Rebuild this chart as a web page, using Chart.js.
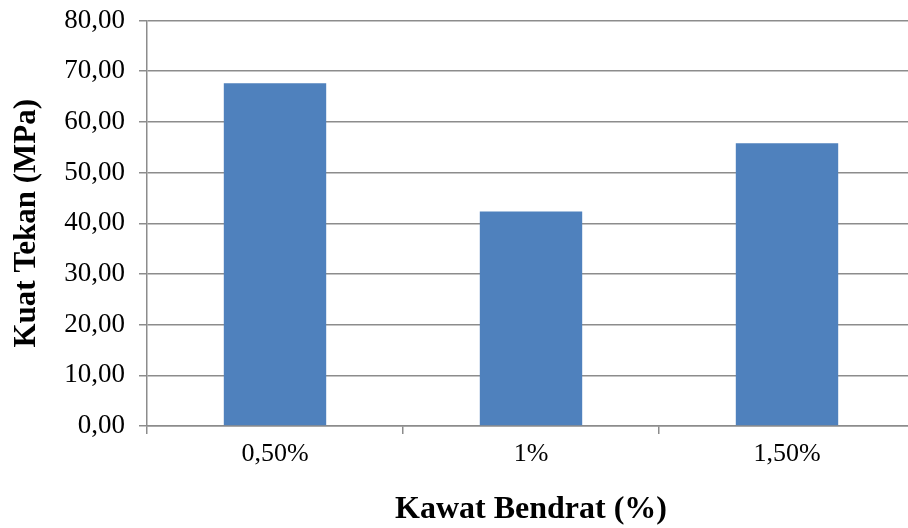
<!DOCTYPE html>
<html>
<head>
<meta charset="utf-8">
<script src="https://cdn.jsdelivr.net/npm/chart.js@4/dist/chart.umd.min.js"></script>
<style>
  html, body { margin: 0; padding: 0; background: #fff; overflow: hidden; }
  #wrap { width: 916px; height: 528px; }
</style>
</head>
<body>
<div id="wrap"><canvas id="chart"></canvas></div>
<script>
const categories = ['0,50%', '1%', '1,50%'];
const kuatTekan = [67.6, 42.3, 55.8];
const yTicksMax = 80;
const yStep = 10;

const gridColor = '#8c8c8c';
const serif = '"Liberation Serif", "Times New Roman", serif';

const ctx = document.getElementById('chart').getContext('2d');
const chart = new Chart(ctx, {
  type: 'bar',
  data: {
    labels: categories,
    datasets: [{
      label: 'Kuat Tekan',
      data: kuatTekan,
      backgroundColor: '#4F81BD',
      borderWidth: 0,
      categoryPercentage: 1,
      barPercentage: 0.4
    }]
  },
  options: {
    responsive: true,
    maintainAspectRatio: false,
    animation: false,
    layout: { padding: { top: 20.5, right: 1, bottom: 0, left: 0 } },
    plugins: {
      legend: { display: false },
      tooltip: { enabled: false }
    },
    scales: {
      x: {
        grid: {
          offset: true,
          drawOnChartArea: false,
          drawTicks: true,
          tickLength: 8,
          color: gridColor,
          lineWidth: 1.5
        },
        border: { color: gridColor, width: 1.5 },
        ticks: {
          color: '#000',
          padding: 5,
          font: { family: serif, size: 26 }
        },
        title: {
          display: true,
          text: 'Kawat Bendrat (%)',
          color: '#000',
          font: { family: serif, size: 32, weight: 'bold', lineHeight: 1 },
          padding: { top: 0, bottom: 2 }
        },
        afterFit: (axis) => { axis.height = 102; }
      },
      y: {
        min: 0,
        max: yTicksMax,
        grid: {
          color: gridColor,
          lineWidth: 1.5,
          tickLength: 8
        },
        border: { color: gridColor, width: 1.5 },
        ticks: {
          stepSize: yStep,
          color: '#000',
          padding: 14,
          font: { family: serif, size: 27 },
          callback: (v) => v.toFixed(2).replace('.', ',')
        },
        title: {
          display: true,
          text: 'Kuat Tekan (MPa)',
          color: '#000',
          font: { family: serif, size: 31, weight: 'bold', lineHeight: 1 },
          padding: { top: 11, bottom: 0 }
        },
        afterFit: (axis) => {
          axis.width = 147;
          // let the layout padding alone decide where the plot starts
          axis.paddingTop = 0;
          axis.paddingBottom = 0;
        }
      }
    }
  }
});
</script>
</body>
</html>
